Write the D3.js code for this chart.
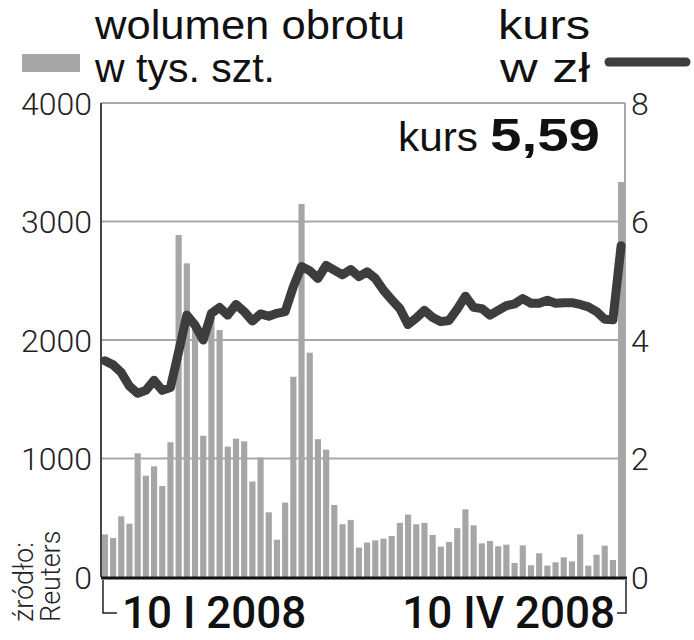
<!DOCTYPE html>
<html>
<head>
<meta charset="utf-8">
<script src="https://cdn.jsdelivr.net/npm/d3@7"></script>
<style>
  body { margin: 0; background: #fff; }
  text { font-family: "Liberation Sans", Arial, sans-serif; }
  .tick-lbl { font-family: Roboto, sans-serif; font-weight: 300; font-size: 32px; fill: #222; }
</style>
</head>
<body>
<div id="chart"></div>
<script>
// wolumen obrotu w tys. szt. (one bar per session, 10 I - 10 IV 2008)
var volume = [360, 329, 512, 450, 1044, 855, 934, 768, 1137, 2886,
  2647, 2150, 1192, 2197, 2084, 1100, 1167, 1145, 806, 1008,
  546, 315, 628, 1690, 3148, 1893, 1163, 1075, 608, 445,
  482, 248, 291, 309, 323, 346, 457, 527, 445, 457,
  355, 257, 296, 412, 571, 436, 284, 304, 259, 273,
  118, 267, 99, 200, 96, 124, 166, 132, 360, 96,
  188, 264, 143, 3333];

// kurs w zl
var price = [3.65, 3.58, 3.45, 3.22, 3.10, 3.15, 3.32, 3.15, 3.20, 3.80,
  4.42, 4.25, 4.00, 4.45, 4.55, 4.42, 4.60, 4.48, 4.32, 4.44,
  4.40, 4.45, 4.48, 4.90, 5.24, 5.17, 5.04, 5.26, 5.18, 5.10,
  5.19, 5.07, 5.15, 5.04, 4.84, 4.68, 4.53, 4.26, 4.37, 4.50,
  4.38, 4.31, 4.33, 4.52, 4.74, 4.55, 4.53, 4.42, 4.50, 4.58,
  4.61, 4.70, 4.62, 4.62, 4.67, 4.62, 4.63, 4.63, 4.60, 4.56,
  4.48, 4.35, 4.34, 5.59];

var volTicks = [0, 1000, 2000, 3000, 4000];
var priceTicks = [0, 2, 4, 6, 8];
var dateLabels = ["10 I 2008", "10 IV 2008"];
var lastPrice = "5,59";

drawChart();

function drawChart() {
  var W = 694, H = 640;
  var pLeft = 101, pRight = 625, pTop = 103, pBottom = 577;

  var svg = d3.select("#chart").append("svg")
    .attr("width", W)
    .attr("height", H);

  var x = d3.scaleBand()
    .domain(d3.range(volume.length))
    .range([pLeft, pRight])
    .paddingInner(0.25)
    .paddingOuter(0.1);

  var yVol = d3.scaleLinear().domain([0, 4000]).range([pBottom, pTop]);
  var yPrice = d3.scaleLinear().domain([0, 8]).range([pBottom, pTop]);

  // grid
  svg.append("g")
    .selectAll("line")
    .data(volTicks.slice(1))
    .enter()
    .append("line")
    .attr("x1", pLeft)
    .attr("x2", pRight)
    .attr("y1", function(d) { return yVol(d); })
    .attr("y2", function(d) { return yVol(d); })
    .attr("stroke", "#a8a8a8")
    .attr("stroke-width", 2);

  svg.append("line")
    .attr("x1", pRight).attr("x2", pRight)
    .attr("y1", pTop).attr("y2", pBottom)
    .attr("stroke", "#a8a8a8")
    .attr("stroke-width", 2);

  // bars
  svg.selectAll(".bar")
    .data(volume)
    .enter()
    .append("rect")
    .attr("class", "bar")
    .attr("x", function(d, i) { return x(i); })
    .attr("y", function(d) { return yVol(d); })
    .attr("width", x.bandwidth())
    .attr("height", function(d) { return pBottom - yVol(d); })
    .attr("fill", "#a6a6a6");

  // left axis line
  svg.append("line")
    .attr("x1", pLeft).attr("x2", pLeft)
    .attr("y1", pTop).attr("y2", pBottom)
    .attr("stroke", "#444")
    .attr("stroke-width", 2);

  // price line
  var line = d3.line()
    .x(function(d, i) { return x(i) + x.bandwidth() / 2; })
    .y(function(d) { return yPrice(d); });

  svg.append("path")
    .datum(price)
    .attr("fill", "none")
    .attr("stroke", "#3d3d3d")
    .attr("stroke-width", 9)
    .attr("stroke-linejoin", "round")
    .attr("stroke-linecap", "round")
    .attr("d", line);

  // bottom axis
  svg.append("line")
    .attr("x1", pLeft).attr("x2", pRight + 2)
    .attr("y1", pBottom + 1).attr("y2", pBottom + 1)
    .attr("stroke", "#111")
    .attr("stroke-width", 3);

  // tick labels
  svg.append("g")
    .selectAll("text")
    .data(volTicks)
    .enter()
    .append("text")
    .attr("class", "tick-lbl")
    .attr("x", 92)
    .attr("y", function(d) { return yVol(d); })
    .attr("dy", "0.36em")
    .attr("text-anchor", "end")
    .text(function(d) { return d; });

  svg.append("g")
    .selectAll("text")
    .data(priceTicks)
    .enter()
    .append("text")
    .attr("class", "tick-lbl")
    .attr("x", 631)
    .attr("y", function(d) { return yPrice(d); })
    .attr("dy", "0.36em")
    .attr("text-anchor", "start")
    .text(function(d) { return d; });

  // date bracket
  svg.append("path")
    .attr("d", "M" + (pLeft + 2) + "," + (pBottom + 3) + "V613H117")
    .attr("fill", "none")
    .attr("stroke", "#222")
    .attr("stroke-width", 1.5);
  svg.append("path")
    .attr("d", "M" + (pRight + 1) + "," + (pBottom + 3) + "V613H617")
    .attr("fill", "none")
    .attr("stroke", "#222")
    .attr("stroke-width", 1.5);

  svg.append("text")
    .attr("x", 122).attr("y", 628)
    .style("font-family", "Roboto, sans-serif")
    .style("font-weight", 500)
    .style("font-size", "44px")
    .attr("fill", "#111")
    .text(dateLabels[0]);

  svg.append("text")
    .attr("x", 615).attr("y", 628)
    .attr("text-anchor", "end")
    .style("font-family", "Roboto, sans-serif")
    .style("font-weight", 500)
    .style("font-size", "44px")
    .attr("fill", "#111")
    .text(dateLabels[1]);

  // source
  var src = svg.append("g").attr("transform", "translate(0,622) rotate(-90)");
  src.append("text").attr("x", 0).attr("y", 33)
    .style("font-family", "Roboto, sans-serif").style("font-weight", 300)
    .style("font-size", "27px").attr("fill", "#222")
    .text("źródło:");
  src.append("text").attr("x", 0).attr("y", 60)
    .style("font-family", "Roboto, sans-serif").style("font-weight", 300)
    .style("font-size", "27px").attr("fill", "#222")
    .text("Reuters");

  // legend
  svg.append("rect")
    .attr("x", 22).attr("y", 54)
    .attr("width", 58).attr("height", 18)
    .attr("fill", "#a6a6a6");

  svg.append("text").attr("x", 95).attr("y", 39)
    .style("font-size", "41px").attr("fill", "#111")
    .attr("textLength", 310).attr("lengthAdjust", "spacingAndGlyphs")
    .text("wolumen obrotu");
  svg.append("text").attr("x", 95).attr("y", 82)
    .style("font-size", "41px").attr("fill", "#111")
    .attr("textLength", 180).attr("lengthAdjust", "spacingAndGlyphs")
    .text("w tys. szt.");

  svg.append("text").attr("x", 498).attr("y", 39)
    .style("font-size", "41px").attr("fill", "#111")
    .attr("textLength", 92).attr("lengthAdjust", "spacingAndGlyphs")
    .text("kurs");
  svg.append("text").attr("x", 500).attr("y", 82)
    .style("font-size", "41px").attr("fill", "#111")
    .attr("textLength", 90).attr("lengthAdjust", "spacingAndGlyphs")
    .text("w zł");

  svg.append("line")
    .attr("x1", 609).attr("x2", 686)
    .attr("y1", 62).attr("y2", 62)
    .attr("stroke", "#3d3d3d")
    .attr("stroke-width", 9)
    .attr("stroke-linecap", "round");

  // current price
  svg.append("text").attr("x", 398).attr("y", 151)
    .style("font-size", "40px").attr("fill", "#111")
    .attr("textLength", 80).attr("lengthAdjust", "spacingAndGlyphs")
    .text("kurs");
  svg.append("text").attr("x", 490).attr("y", 151)
    .style("font-size", "47px").style("font-weight", "bold").attr("fill", "#111")
    .attr("textLength", 110).attr("lengthAdjust", "spacingAndGlyphs")
    .text(lastPrice);
}
</script>
</body>
</html>
